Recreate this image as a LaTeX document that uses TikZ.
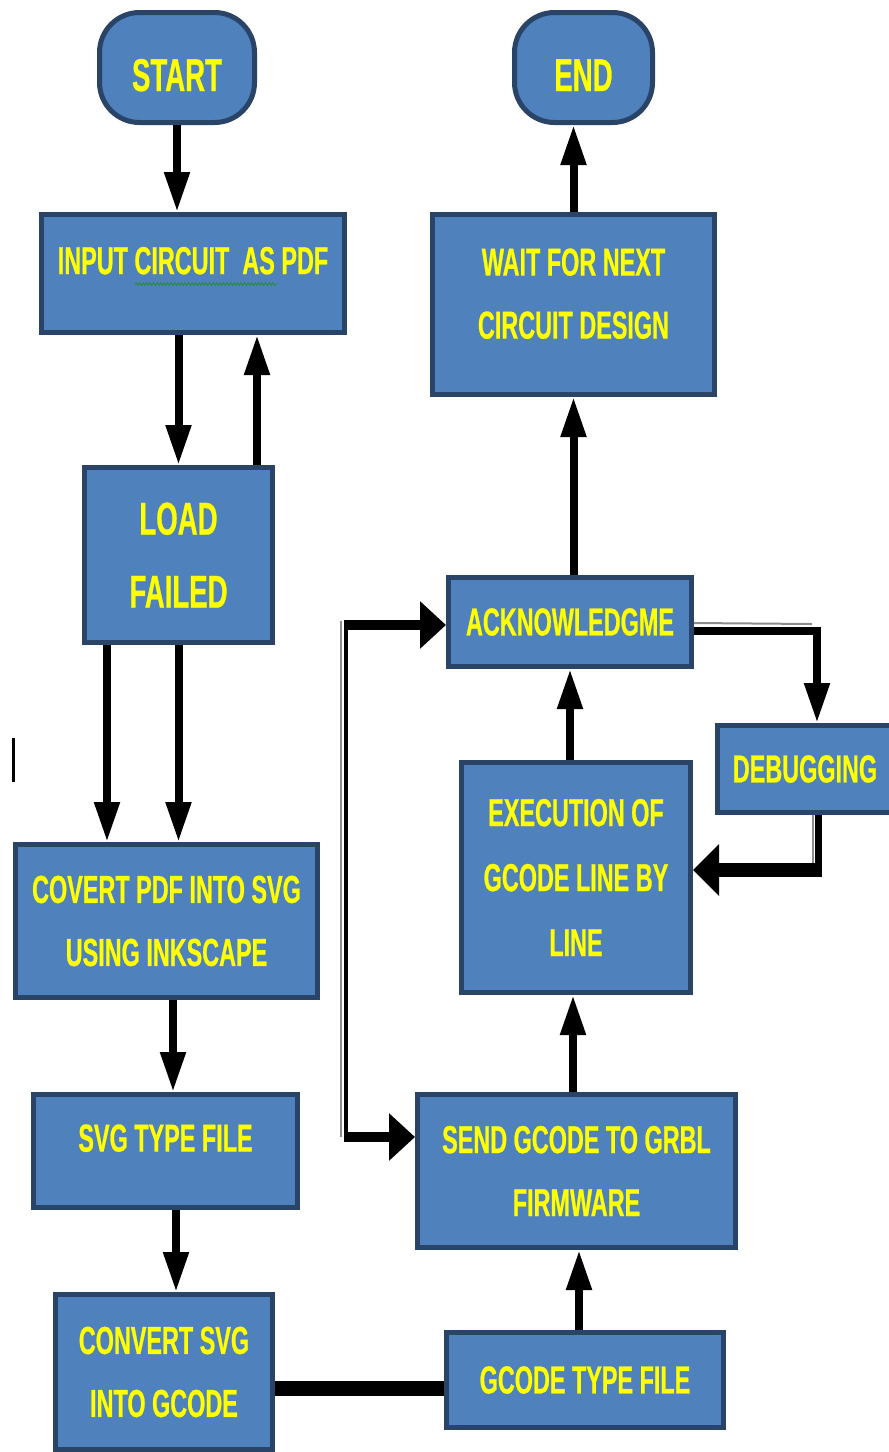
\documentclass[tikz,border=0pt]{standalone}
\usepackage{fontspec}
\newfontfamily\cond{Liberation Sans Bold}[FakeStretch=0.6, FakeBold=0.6]
\usetikzlibrary{arrows.meta,decorations.pathmorphing}
\definecolor{boxfill}{RGB}{79,129,189}
\definecolor{boxline}{RGB}{42,68,104}
\definecolor{txtyellow}{RGB}{255,255,0}
\definecolor{squig}{RGB}{40,140,60}
\tikzset{
  box/.style={draw=boxline, line width=5pt, fill=boxfill, text=txtyellow, align=center,
    inner sep=0pt, font=\cond\fontsize{39}{63}\selectfont},
  term/.style={box, rounded corners=40pt, font=\cond\fontsize{46}{63}\selectfont},
  arr/.style={line width=8pt, -{Triangle[width=24pt,length=40pt]}},
  bigarr/.style={line width=10pt, -{Triangle[width=46pt,length=26pt]}},
  shade/.style={draw=black!45, line width=2pt},
}
\begin{document}
\begin{tikzpicture}[x=1pt,y=-1pt]
\useasboundingbox (0,0) rectangle (889,1452);
% nodes
\node[term, minimum width=155pt, minimum height=110pt, text height=47pt, text depth=0pt] (start) at (177,67.5) {START};
\node[term, minimum width=138pt, minimum height=110pt, text height=47pt, text depth=0pt] (end) at (583.5,67.5) {END};
\node[box, minimum width=303pt, minimum height=118pt, text depth=26pt] (input) at (193,273.5) {INPUT CIRCUIT\ \ AS PDF};
\node[box, minimum width=188pt, minimum height=175pt, font=\cond\fontsize{46}{73}\selectfont] (load) at (178.5,555) {LOAD\\FAILED};
\node[box, minimum width=302pt, minimum height=153pt] (covert) at (166.5,921) {COVERT PDF INTO SVG\\USING INKSCAPE};
\node[box, minimum width=264pt, minimum height=113pt, text depth=26pt] (svg) at (165.5,1151) {SVG TYPE FILE};
\node[box, minimum width=217pt, minimum height=155pt] (convert) at (164,1372) {CONVERT SVG\\INTO GCODE};
\node[box, minimum width=277pt, minimum height=95pt] (gcode) at (585,1380) {GCODE TYPE FILE};
\node[box, minimum width=318pt, minimum height=153pt] (send) at (576.5,1171) {SEND GCODE TO GRBL\\FIRMWARE};
\node[box, minimum width=229pt, minimum height=230pt, font=\cond\fontsize{39}{65}\selectfont] (exec) at (576,877.5) {EXECUTION OF\\GCODE LINE BY\\LINE};
\node[box, minimum width=175pt, minimum height=87pt] (debug) at (805,769) {DEBUGGING};
\node[box, minimum width=243pt, minimum height=89pt] (ack) at (570,622) {ACKNOWLEDGME};
\node[box, minimum width=282pt, minimum height=180pt] (wait) at (573.5,304.5) {WAIT FOR NEXT\\CIRCUIT DESIGN\\[-41pt]\mbox{}};
% helper coordinates
\coordinate (sq1) at (135,284);
\coordinate (sq2) at (277,284);
\coordinate (st1) at (13,738);
\coordinate (st2) at (13,782);
\coordinate (lt) at (346,625);
\coordinate (lb) at (346,1137);
\coordinate (ac) at (817,631);
\coordinate (ag) at (812,624);
\coordinate (dc) at (818,870);
% spell-check squiggle
\draw[squig, line width=1pt, decorate, decoration={snake, amplitude=1.2pt, segment length=3.5pt}] (sq1) -- (sq2);
% stray mark
\draw[line width=3pt] (st1) -- (st2);
% left column
\draw[arr] (start.south) -- (start.south |- input.north);
\draw[arr] (input.south -| load.north) -- (load.north);
\draw[arr] ([xshift=78.5pt]load.north) -- ([xshift=78.5pt]load.north |- input.south);
\draw[arr] ([xshift=-71.5pt]load.south) -- ([xshift=-71.5pt]load.south |- covert.north);
\draw[arr] (load.south) -- (load.south |- covert.north);
\draw[arr] ([xshift=6.5pt]covert.south) -- ([xshift=6.5pt]covert.south |- svg.north);
\draw[arr] ([xshift=10.5pt]svg.south) -- ([xshift=10.5pt]svg.south |- convert.north);
\draw[line width=15pt] ([yshift=-16pt]convert.east) -- ([yshift=-16pt]convert.east -| gcode.west);
% right column
\draw[arr] ([xshift=-6pt]gcode.north) -- ([xshift=-6pt]gcode.north |- send.south);
\draw[arr] ([xshift=-3.5pt]send.north) -- ([xshift=-3.5pt]send.north |- exec.south);
\draw[arr] (ack.south |- exec.north) -- (ack.south);
\draw[arr] (wait.south |- ack.north) -- (wait.south);
\draw[arr] (wait.north) -- (wait.north |- end.south);
% acknowledgement -> debugging
\draw[shade] ([yshift=-1pt]ack.east) -- (ag);
\draw[arr, line join=miter] ([yshift=-9pt]ack.east) -| (ac |- debug.north);
% debugging -> execution
\draw[shade] ([xshift=-5pt]debug.south -| dc) -- ([xshift=-5pt]dc);
\draw[line width=7pt] (debug.south -| dc) -- (dc);
\draw[line width=14pt, -{Triangle[width=50pt,length=26pt]}] ([xshift=3.5pt]dc) -- (dc -| exec.east);
% left loop
\draw[shade] ([xshift=-5pt,yshift=4pt]lt) -- ([xshift=-5pt]lb);
\draw[line width=4pt] ([yshift=5pt]lt) -- ([yshift=-5pt]lb);
\draw[bigarr] ([xshift=-2pt]lt) -- (lt -| ack.west);
\draw[bigarr] ([xshift=-2pt]lb) -- (lb -| send.west);
\end{tikzpicture}
\end{document}
